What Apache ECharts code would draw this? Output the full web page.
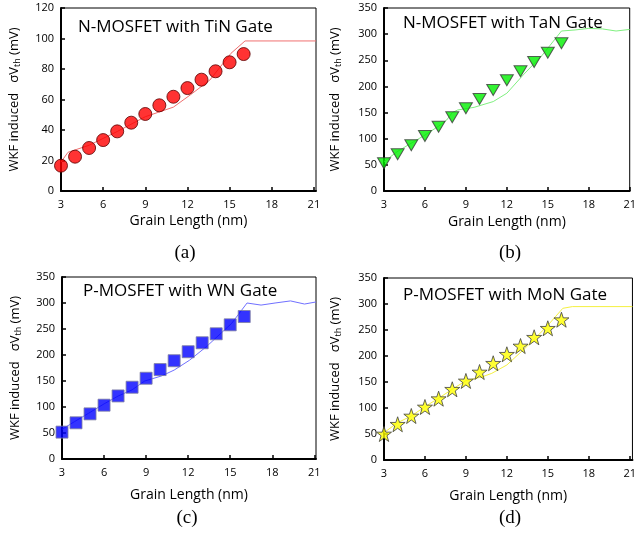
<!DOCTYPE html>
<html>
<head>
<meta charset="utf-8">
<script src="https://cdn.jsdelivr.net/npm/echarts@6/dist/echarts.min.js"></script>
<style>
  html, body { margin: 0; padding: 0; background: #fff; }
  #main { width: 639px; height: 539px; }
</style>
</head>
<body>
<div id="main"></div>
<script>
// grain lengths of the measured points (nm)
const grainLen = [3, 4, 5, 6, 7, 8, 9, 10, 11, 12, 13, 14, 15, 16];

// (a) N-MOSFET, TiN gate
const tinMarks = [16.6, 22.5, 28.2, 33.4, 39.1, 44.8, 50.5, 56.2, 61.8, 67.5, 73.0, 78.5, 84.4, 89.8];
const tinCurve = [[3, 19], [3.5, 25.4], [5, 30], [7, 39], [9, 48.7], [11, 55], [12.2, 63], [13.6, 72.8],
  [15.1, 90.3], [16.1, 98.4], [21.15, 98.4]];

// (b) N-MOSFET, TaN gate
const tanMarks = [53, 70.2, 87.4, 105.2, 123, 141, 158.2, 176, 193.2, 211.7, 228.9, 246.7, 264.5, 282.5];
const tanCurve = [[3, 56], [3.95, 75], [4.9, 90], [6, 107], [7, 124], [7.6, 136], [8, 150], [8.4, 155],
  [9.6, 160], [11, 171], [12, 187], [13.2, 222], [14.6, 260], [16, 306], [17, 308], [18, 311],
  [19, 310], [20, 306], [21, 309]];

// (c) P-MOSFET, WN gate
const wnMarks = [51.7, 69.6, 86.8, 103.5, 121.3, 138, 155.3, 172, 189, 206.3, 223.5, 240.8, 258, 274];
const wnCurve = [[3, 57], [3.9, 72], [4.9, 88], [6, 106], [7, 121], [8, 133], [8.9, 150], [10.1, 159.7],
  [11, 171], [12.1, 190], [13.3, 216], [15.1, 260.7], [16.2, 300], [17.2, 296], [18.2, 300],
  [19.3, 304], [20.3, 298], [21.12, 302]];

// (d) P-MOSFET, MoN gate
const monMarks = [50, 68.7, 84.6, 101.9, 117.9, 136, 152, 169.2, 186, 203.3, 219.2, 236, 253.3, 269.8];
const monCurve = [[3, 52.6], [4, 71.8], [5, 84.6], [6, 102.5], [7.1, 120.5], [8, 136], [9, 152.5],
  [10.2, 160], [10.9, 166.7], [12, 182.7], [13.46, 218], [14.9, 256], [16.1, 291.7], [16.8, 295],
  [21.2, 295]];

const panelTitles = ['N-MOSFET with TiN Gate', 'N-MOSFET with TaN Gate', 'P-MOSFET with WN Gate', 'P-MOSFET with MoN Gate'];
const captions = ['(a)', '(b)', '(c)', '(d)'];
const xName = 'Grain Length (nm)';

const chart = echarts.init(document.getElementById('main'));
const font = '"Open Sans", "DejaVu Sans", sans-serif';

// panel geometry (px)
const grids = [
  { left: 61, top: 8, width: 255, height: 183 },
  { left: 384, top: 8, width: 255, height: 183 },
  { left: 62, top: 277, width: 254, height: 182 },
  { left: 384, top: 278, width: 254, height: 182 }
];
const xMax = [21.15, 21, 21.12, 21.2];
const yMax = [120, 350, 350, 350];
const yInt = [20, 50, 50, 50];
const yGap = [39, 41, 39, 41];
const xGap = [23, 24, 29, 29];

const pairs = (vals) => grainLen.map((x, i) => [x, vals[i]]);

const starPath = 'path://M50,2 L61.5,36 L97,36 L68.5,57.5 L79.5,92 L50,71 L20.5,92 L31.5,57.5 L3,36 L38.5,36 Z';

const option = {
  animation: false,
  backgroundColor: '#fff',
  textStyle: { fontFamily: font },
  grid: grids.map(g => ({ ...g, show: true, borderColor: '#000', borderWidth: 1, backgroundColor: 'transparent' })),
  xAxis: grids.map((g, i) => ({
    type: 'value',
    gridIndex: i,
    min: 3,
    max: xMax[i],
    interval: 3,
    name: xName,
    nameLocation: 'middle',
    nameGap: xGap[i],
    nameTextStyle: { fontSize: 14, color: '#000', fontFamily: font },
    splitLine: { show: false },
    axisLine: { onZero: false, lineStyle: { color: '#000', width: 2 } },
    axisTick: { inside: true, length: 4, lineStyle: { color: '#000', width: 1.5 } },
    axisLabel: { color: '#000', fontSize: 11, margin: 8, showMaxLabel: xMax[i] === 21, fontFamily: font }
  })),
  yAxis: grids.map((g, i) => ({
    type: 'value',
    gridIndex: i,
    min: 0,
    max: yMax[i],
    interval: yInt[i],
    name: 'WKF induced   σV{sub|th} (mV)',
    nameLocation: 'middle',
    nameGap: yGap[i],
    nameTextStyle: {
      fontSize: 13, color: '#000', fontFamily: font,
      rich: { sub: { fontSize: 9, color: '#000', fontFamily: font, padding: [6, 0, 0, 0] } }
    },
    splitLine: { show: false },
    axisLine: { onZero: false, lineStyle: { color: '#000', width: 2 } },
    axisTick: { inside: true, length: 4, lineStyle: { color: '#000', width: 1.5 } },
    axisLabel: { color: '#000', fontSize: 11, margin: 7, fontFamily: font }
  })),
  series: [
    { type: 'line', xAxisIndex: 0, yAxisIndex: 0, data: tinCurve, symbol: 'none', lineStyle: { color: '#f07070', width: 1 }, z: 2 },
    { type: 'scatter', xAxisIndex: 0, yAxisIndex: 0, data: pairs(tinMarks), symbol: 'circle', symbolSize: 13,
      itemStyle: { color: '#ff0000', borderColor: '#5a0000', borderWidth: 1 }, z: 3 },
    { type: 'line', xAxisIndex: 1, yAxisIndex: 1, data: tanCurve, symbol: 'none', lineStyle: { color: '#80f080', width: 1 }, z: 2 },
    { type: 'scatter', xAxisIndex: 1, yAxisIndex: 1, data: pairs(tanMarks), symbol: 'triangle', symbolRotate: 180, symbolSize: [13, 11],
      itemStyle: { color: '#00f000', borderColor: '#3a3a3a', borderWidth: 1 }, z: 3 },
    { type: 'line', xAxisIndex: 2, yAxisIndex: 2, data: wnCurve, symbol: 'none', lineStyle: { color: '#7070ff', width: 1 }, z: 2 },
    { type: 'scatter', xAxisIndex: 2, yAxisIndex: 2, data: pairs(wnMarks), symbol: 'rect', symbolSize: 12,
      itemStyle: { color: '#0000ff', borderColor: '#8080a0', borderWidth: 1 }, z: 3 },
    { type: 'line', xAxisIndex: 3, yAxisIndex: 3, data: monCurve, symbol: 'none', lineStyle: { color: '#f4f040', width: 1 }, z: 2 },
    { type: 'scatter', xAxisIndex: 3, yAxisIndex: 3, data: pairs(monMarks), symbol: starPath, symbolSize: 15,
      itemStyle: { color: '#ffff00', borderColor: '#404040', borderWidth: 1 }, z: 3 }
  ],
  graphic: [
    { type: 'text', x: 78, y: 27, style: { text: panelTitles[0], font: '17px ' + font, fill: '#000', verticalAlign: 'middle' } },
    { type: 'text', x: 403, y: 23, style: { text: panelTitles[1], font: '17px ' + font, fill: '#000', verticalAlign: 'middle' } },
    { type: 'text', x: 83, y: 291, style: { text: panelTitles[2], font: '17px ' + font, fill: '#000', verticalAlign: 'middle' } },
    { type: 'text', x: 403, y: 295, style: { text: panelTitles[3], font: '17px ' + font, fill: '#000', verticalAlign: 'middle' } },
    { type: 'text', x: 185, y: 253, style: { text: captions[0], font: '19px "Liberation Serif", serif', fill: '#000', align: 'center', verticalAlign: 'middle' } },
    { type: 'text', x: 510, y: 253, style: { text: captions[1], font: '19px "Liberation Serif", serif', fill: '#000', align: 'center', verticalAlign: 'middle' } },
    { type: 'text', x: 187, y: 518, style: { text: captions[2], font: '19px "Liberation Serif", serif', fill: '#000', align: 'center', verticalAlign: 'middle' } },
    { type: 'text', x: 510, y: 518, style: { text: captions[3], font: '19px "Liberation Serif", serif', fill: '#000', align: 'center', verticalAlign: 'middle' } }
  ]
};

chart.setOption(option);
window.addEventListener('resize', () => chart.resize());
</script>
</body>
</html>
